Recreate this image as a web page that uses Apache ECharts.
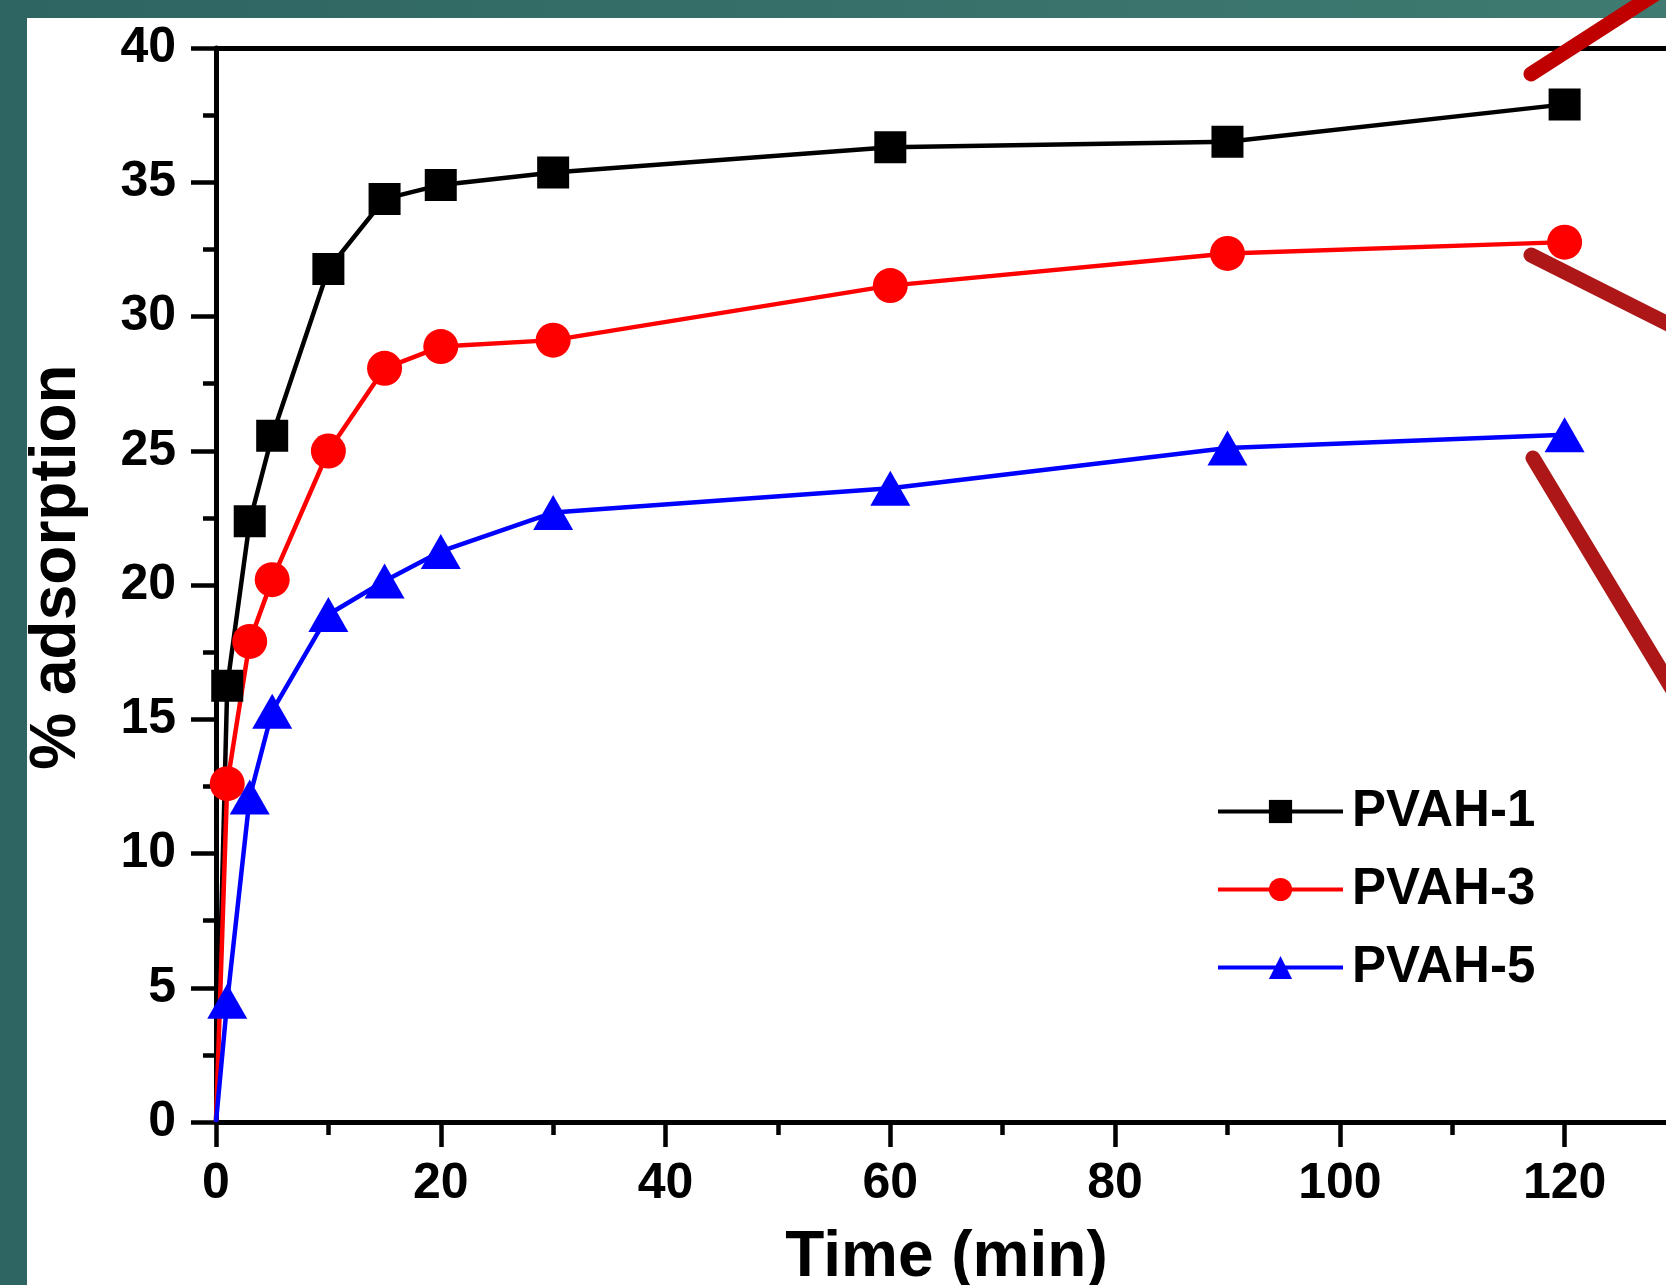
<!DOCTYPE html>
<html><head><meta charset="utf-8">
<script src="https://cdn.jsdelivr.net/npm/echarts@6/dist/echarts.min.js"></script>
<style>
html,body{margin:0;padding:0;width:1666px;height:1285px;overflow:hidden;background:linear-gradient(to right,#2e6462,#3f7b71);}
#paper{position:absolute;left:27px;top:18px;width:1639px;height:1267px;background:#fff;}
#chart{position:absolute;left:0;top:0;width:1666px;height:1285px;}
</style></head><body><div id="paper"></div><div id="chart"></div>
<script>
// Data
const times = [0, 1, 3, 5, 10, 15, 20, 30, 60, 90, 120];
const pvah1 = [0, 16.25, 22.37, 25.56, 31.77, 34.38, 34.90, 35.36, 36.30, 36.51, 37.90];
const pvah3 = [0, 12.60, 17.90, 20.20, 24.99, 28.07, 28.88, 29.12, 31.15, 32.35, 32.77];
const pvah5 = [0, 4.50, 12.10, 15.30, 18.90, 20.15, 21.25, 22.70, 23.60, 25.10, 25.60];
const seriesNames = ['PVAH-1', 'PVAH-3', 'PVAH-5'];
const xName = 'Time (min)';
const yName = '% adsorption';

const FONT = "'Liberation Sans', Arial, Helvetica, sans-serif";
const chart = echarts.init(document.getElementById('chart'), null, {renderer: 'canvas'});

function build(vals) {
  return times.map((t, i) => i === 0 ? {value: [t, vals[i]], symbol: 'none'} : [t, vals[i]]);
}

const axisLineStyle = {color: '#000', width: 5};
const labelStyle = {color: '#000', fontSize: 50, fontWeight: 'bold', fontFamily: FONT};

const option = {
  animation: false,
  backgroundColor: 'transparent',
  grid: {left: 216, top: 48, width: 1461, height: 1074, containLabel: false, outerBoundsMode: 'none'},
  xAxis: [
    {
      type: 'value', min: 0, max: 130, interval: 20, position: 'bottom',
      axisLine: {show: true, onZero: false, lineStyle: axisLineStyle},
      axisTick: {show: true, inside: false, length: 25, lineStyle: {color: '#000', width: 4.5}},
      axisLabel: Object.assign({margin: 37, showMaxLabel: false}, labelStyle),
      splitLine: {show: false},
      name: xName, nameLocation: 'middle', nameGap: 104,
      nameTextStyle: {color: '#000', fontSize: 64, fontWeight: 'bold', fontFamily: FONT}
    },
    {
      type: 'value', min: 0, max: 130, interval: 10, position: 'bottom',
      axisLine: {show: false},
      axisTick: {show: true, inside: false, length: 13, lineStyle: {color: '#000', width: 4.5}},
      axisLabel: {show: false},
      splitLine: {show: false}
    },
    {
      type: 'value', min: 0, max: 130, position: 'top',
      axisLine: {show: true, onZero: false, lineStyle: axisLineStyle},
      axisTick: {show: false}, axisLabel: {show: false}, splitLine: {show: false}
    }
  ],
  yAxis: [{
    type: 'value', min: 0, max: 40, interval: 5, position: 'left',
    axisLine: {show: true, onZero: false, lineStyle: axisLineStyle},
    axisTick: {show: true, inside: false, length: 25, lineStyle: {color: '#000', width: 4.5}},
    minorTick: {show: true, splitNumber: 2, length: 13, lineStyle: {color: '#000', width: 4.5}},
    axisLabel: Object.assign({margin: 40}, labelStyle),
    splitLine: {show: false},
    name: yName, nameLocation: 'middle', nameGap: 127,
    nameTextStyle: {color: '#000', fontSize: 64, fontWeight: 'bold', fontFamily: FONT, padding: [0, 0, 0, 36]}
  }],
  legend: {
    orient: 'vertical', left: 1216, top: 786, padding: 0,
    itemWidth: 125, itemHeight: 29, itemGap: 27,
    lineStyle: {width: 4},
    textStyle: {color: '#000', fontSize: 51, fontWeight: 'bold', fontFamily: FONT, padding: [0, 0, 0, 4]},
    data: seriesNames
  },
  series: [
    {
      name: seriesNames[0], type: 'line', xAxisIndex: 0, yAxisIndex: 0,
      data: build(pvah1), symbol: 'rect', symbolSize: 32,
      lineStyle: {color: '#000000', width: 4.5}, itemStyle: {color: '#000000'}
    },
    {
      name: seriesNames[1], type: 'line', xAxisIndex: 0, yAxisIndex: 0,
      data: build(pvah3), symbol: 'circle', symbolSize: 35,
      lineStyle: {color: '#ff0000', width: 4.5}, itemStyle: {color: '#ff0000'}
    },
    {
      name: seriesNames[2], type: 'line', xAxisIndex: 0, yAxisIndex: 0,
      data: build(pvah5), symbol: 'triangle', symbolSize: [40, 35],
      lineStyle: {color: '#0000ff', width: 4.5}, itemStyle: {color: '#0000ff'}
    }
  ],
  graphic: [
    {type: 'line', z: 100, shape: {x1: 1531, y1: 74, x2: 1680, y2: -22},
     style: {stroke: '#c00000', lineWidth: 15, lineCap: 'round'}},
    {type: 'polygon', z: 100, shape: {points: [[1678, 16], [1651, -26], [1703, -29]]},
     style: {fill: '#c00000'}},
    {type: 'line', z: 100, shape: {x1: 1531, y1: 255, x2: 1700, y2: 340},
     style: {stroke: '#ae1717', lineWidth: 15, lineCap: 'round'}},
    {type: 'line', z: 100, shape: {x1: 1533, y1: 458, x2: 1700, y2: 735},
     style: {stroke: '#ae1717', lineWidth: 15, lineCap: 'round'}}
  ]
};
chart.setOption(option);
</script>
</body></html>
